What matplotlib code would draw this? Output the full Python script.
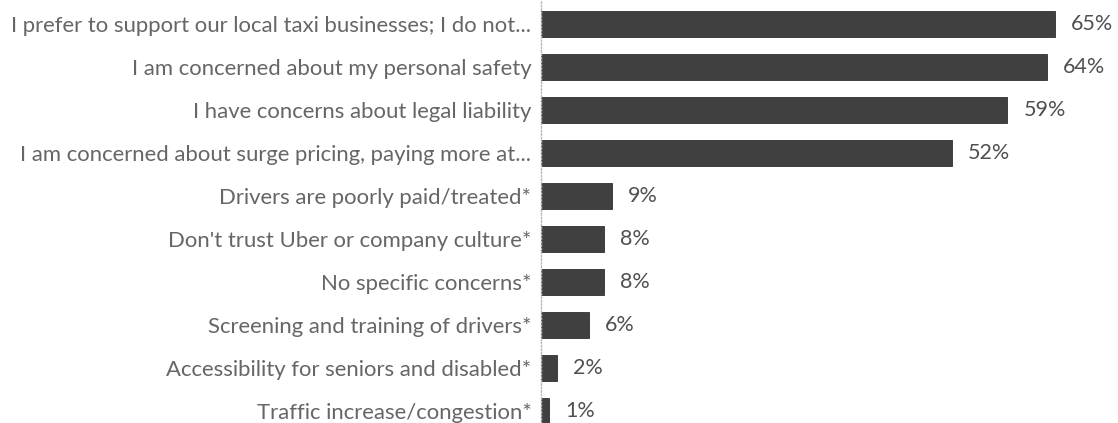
import matplotlib.pyplot as plt

# --- data ---
categories = [
    "I prefer to support our local taxi businesses; I do not...",
    "I am concerned about my personal safety",
    "I have concerns about legal liability",
    "I am concerned about surge pricing, paying more at...",
    "Drivers are poorly paid/treated*",
    "Don't trust Uber or company culture*",
    "No specific concerns*",
    "Screening and training of drivers*",
    "Accessibility for seniors and disabled*",
    "Traffic increase/congestion*",
]
percent = [65, 64, 59, 52, 9, 8, 8, 6, 2, 1]

BAR_COLOR = '#404040'
LABEL_COLOR = '#666666'
VALUE_COLOR = '#505050'
FONT = ['Lato', 'DejaVu Sans']

plt.rcParams['font.family'] = FONT

fig = plt.figure(figsize=(11.18, 4.23), dpi=100)
ax = fig.add_axes([0.484, 0.0, 0.516, 1.0])

y = list(range(len(categories)))
ax.barh(y, percent, height=0.6, color=BAR_COLOR, edgecolor='#303030', linewidth=0.6)

# value labels to the right of each bar
for yi, v in zip(y, percent):
    ax.annotate(f"{v}%", xy=(v, yi), xytext=(11.5, 0), textcoords='offset points',
                va='center', ha='left', fontsize=15.5, color=VALUE_COLOR)

ax.set_yticks(y)
ax.set_yticklabels(categories, fontsize=15.9, color=LABEL_COLOR)
ax.tick_params(axis='y', length=0, pad=7)
ax.set_xticks([])

ax.set_xlim(0, 73)
ax.set_ylim(9.279, -0.558)

for side in ['top', 'right', 'bottom']:
    ax.spines[side].set_visible(False)
ax.spines['left'].set_linestyle((0, (1, 1.5)))
ax.spines['left'].set_color('#b8b8b8')
ax.spines['left'].set_linewidth(1.0)

fig.savefig('out.png', dpi=100)
plt.close(fig)
